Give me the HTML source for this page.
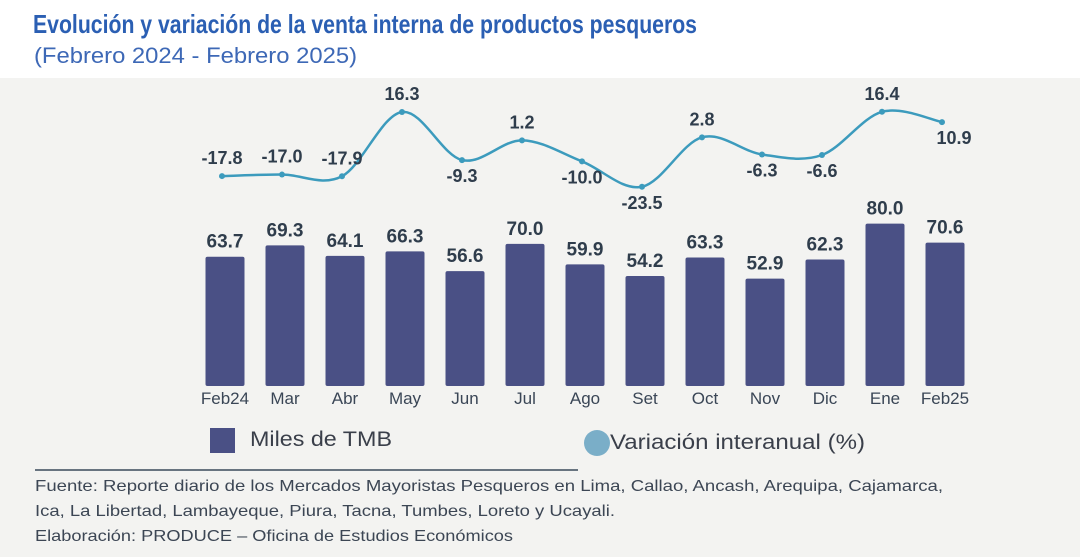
<!DOCTYPE html>
<html><head><meta charset="utf-8"><style>
html,body{margin:0;padding:0;background:#fff;}
svg{display:block;font-family:"Liberation Sans",sans-serif;}
</style></head><body>
<svg id="chart" width="1080" height="557" viewBox="0 0 1080 557">
<rect x="0" y="0" width="1080" height="557" fill="#ffffff"/>
<rect x="0" y="78" width="1080" height="479" fill="#f3f3f1"/>
<text x="33" y="33" font-size="26" font-weight="bold" fill="#2b5fb3" textLength="664" lengthAdjust="spacingAndGlyphs">Evolución y variación de la venta interna de productos pesqueros</text>
<text x="34" y="63" font-size="22" fill="#3d68b6" textLength="323" lengthAdjust="spacingAndGlyphs">(Febrero 2024 - Febrero 2025)</text>
<g id="bars"></g>
<g id="line"></g>
<g id="xlabels"></g>
<rect x="210" y="428" width="25" height="25" fill="#4a5085"/>
<text x="250" y="446" font-size="21" fill="#3a3f4a" textLength="142" lengthAdjust="spacingAndGlyphs">Miles de TMB</text>
<circle cx="597" cy="443" r="13" fill="#7aaec8"/>
<text x="610" y="449" font-size="21" fill="#3a3f4a" textLength="255" lengthAdjust="spacingAndGlyphs">Variación interanual (%)</text>
<line x1="35" y1="470" x2="578" y2="470" stroke="#3a4a5a" stroke-width="1.5"/>
<text x="35" y="491" font-size="16" fill="#3c4654" textLength="908" lengthAdjust="spacingAndGlyphs">Fuente: Reporte diario de los Mercados Mayoristas Pesqueros en Lima, Callao, Ancash, Arequipa, Cajamarca,</text>
<text x="35" y="516" font-size="16" fill="#3c4654" textLength="580" lengthAdjust="spacingAndGlyphs">Ica, La Libertad, Lambayeque, Piura, Tacna, Tumbes, Loreto y Ucayali.</text>
<text x="35" y="541" font-size="16" fill="#3c4654" textLength="478" lengthAdjust="spacingAndGlyphs">Elaboración: PRODUCE – Oficina de Estudios Económicos</text>
</svg>
<script>
const categories = ["Feb24","Mar","Abr","May","Jun","Jul","Ago","Set","Oct","Nov","Dic","Ene","Feb25"];
const volumes = [63.7,69.3,64.1,66.3,56.6,70.0,59.9,54.2,63.3,52.9,62.3,80.0,70.6];
const variation = [-17.8,-17.0,-17.9,16.3,-9.3,1.2,-10.0,-23.5,2.8,-6.3,-6.6,16.4,10.9];
const varLabelSide = ["above","above","above","above","below","above","below","below","above","below","below","above","below"];

const NS = "http://www.w3.org/2000/svg";
const xPos = i => 225 + 60 * i;
const yBar = v => 386 - v * 2.03;
const yLine = v => 142.6 - v * 1.88;
function mk(tag, attrs, parent){ const e=document.createElementNS(NS,tag); for(const k in attrs) e.setAttribute(k,attrs[k]); parent.appendChild(e); return e; }

const gb=document.getElementById('bars'), gl=document.getElementById('line'), gx=document.getElementById('xlabels');
categories.forEach((c,i)=>{
  const x=xPos(i), y=yBar(volumes[i]);
  const r=mk('rect',{x:x-19.5,y:y,width:39,height:386-y,rx:2,fill:'#4a5085'},gb);
  
  
  const t=mk('text',{x:x,y:y-9,'text-anchor':'middle','font-size':19,'font-weight':'bold',fill:'#2f3d4c'},gb);
  t.textContent=volumes[i].toFixed(1);
  
  
  const l=mk('text',{x:x,y:404,'text-anchor':'middle','font-size':17,fill:'#3a4656'},gx);
  l.textContent=c;
  
  
});
const pts=variation.map((v,i)=>[xPos(i)-3,yLine(v)]);
let d='M'+pts[0][0]+','+pts[0][1];
for(let i=0;i<pts.length-1;i++){
  const p0=pts[Math.max(0,i-1)],p1=pts[i],p2=pts[i+1],p3=pts[Math.min(pts.length-1,i+2)];
  const c1=[p1[0]+(p2[0]-p0[0])/6,p1[1]+(p2[1]-p0[1])/6];
  const c2=[p2[0]-(p3[0]-p1[0])/6,p2[1]-(p3[1]-p1[1])/6];
  d+=' C'+c1+' '+c2+' '+p2;
}
const path=mk('path',{d:d,fill:'none',stroke:'#3c9bbd','stroke-width':2.5},gl);


pts.forEach((p,i)=>{
  const c=mk('circle',{cx:p[0],cy:p[1],r:3,fill:'#3c9bbd'},gl);
  
  
  const above=varLabelSide[i]==='above';
  const ty=above?p[1]-12:p[1]+22;
  const tx=(i===12)?p[0]+12:p[0];
  const t=mk('text',{x:tx,y:ty,'text-anchor':'middle','font-size':18,'font-weight':'bold',fill:'#2f3d4c'},gl);
  t.textContent=variation[i].toFixed(1);
  
  
});
</script>
</body></html>
